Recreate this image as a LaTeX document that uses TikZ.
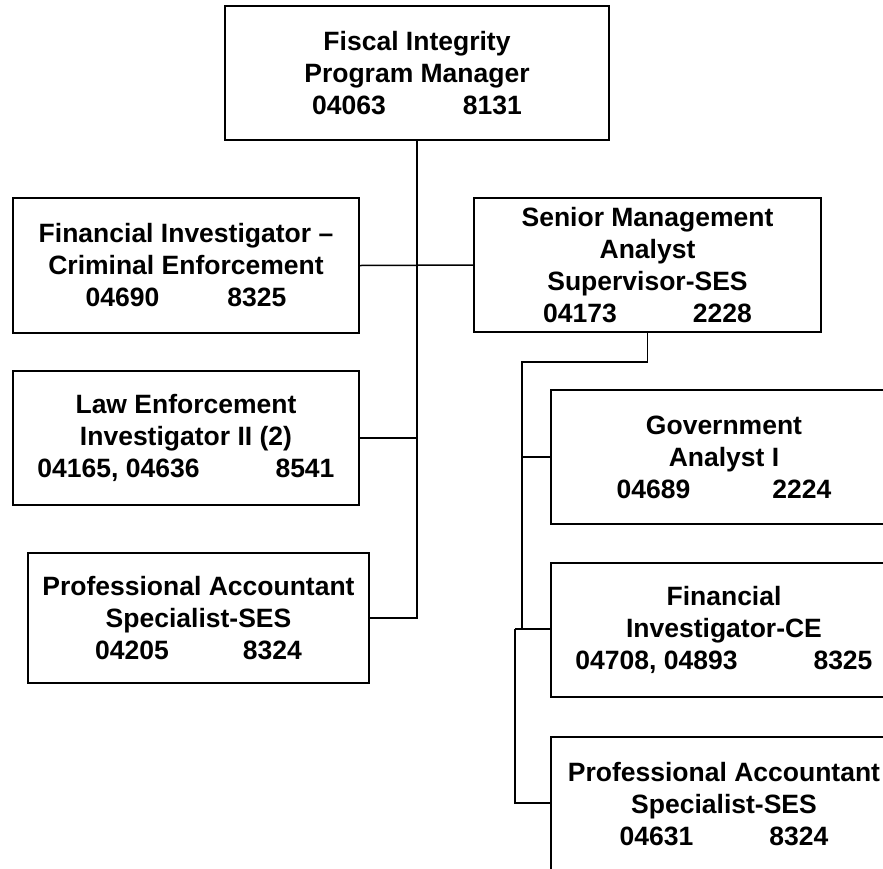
\documentclass[tikz,border=0pt]{standalone}
\usepackage{fontspec}
\setmainfont{Liberation Sans}
\begin{document}
\begin{tikzpicture}[x=1pt,y=-1pt,
  orgbox/.style={draw, line width=1.6pt, inner sep=0pt, align=center,
    font=\fontsize{26.5}{32}\selectfont\bfseries,
    minimum width=#1, minimum height=134pt},
  link/.style={line width=1.5pt}]
\useasboundingbox (0,0) rectangle (883,868);
\clip (0,0) rectangle (883,868);

% positions
\node[orgbox=384pt] (top) at (417,73) {Fiscal Integrity\\Program Manager\\04063\hspace{77pt}8131};
\node[orgbox=346pt, minimum height=135pt] (fice) at (186,265.5) {Financial Investigator --\\Criminal Enforcement\\04690\hspace{68pt}8325};
\node[orgbox=346pt] (law) at (186,438) {Law Enforcement\\Investigator II (2)\\04165, 04636\hspace{76pt}8541};
\node[orgbox=341pt, minimum height=130pt] (pal) at (198.5,618) {Professional Accountant\\Specialist-SES\\04205\hspace{74pt}8324};
\node[orgbox=347pt] (sma) at (647.5,265) {Senior Management\\Analyst\\Supervisor-SES\\04173\hspace{76pt}2228};
\node[orgbox=346pt] (ga) at (724,457) {Government\\Analyst I\\04689\hspace{82pt}2224};
\node[orgbox=346pt] (fir) at (724,630) {Financial\\Investigator-CE\\04708, 04893\hspace{76pt}8325\hspace{21pt}};
\node[orgbox=346pt] (par) at (724,804) {Professional Accountant\\Specialist-SES\\04631\hspace{76pt}8324};

% connector bends
\coordinate (j1) at (522,362);
\coordinate (j2) at (522,629);
\coordinate (j3) at (515,629);
\coordinate (j4) at (515,803);

% manager's line
\draw[link] (top.south) -- (top.south |- pal.east) -- (pal.east);
\draw[link] (fice.east) -- (sma.west);
\draw[link] (law.east) -- (top.south |- law.east);

% supervisor's line
\draw[link] (sma.south) -- (sma.south |- j1) -- (j1) -- (j2);
\draw[link] (j1 |- ga.west) -- (ga.west);
\draw[link] (j3) -- (fir.west |- j3);
\draw[link] (j3) -- (j4) -- (par.west |- j4);
\end{tikzpicture}
\end{document}
